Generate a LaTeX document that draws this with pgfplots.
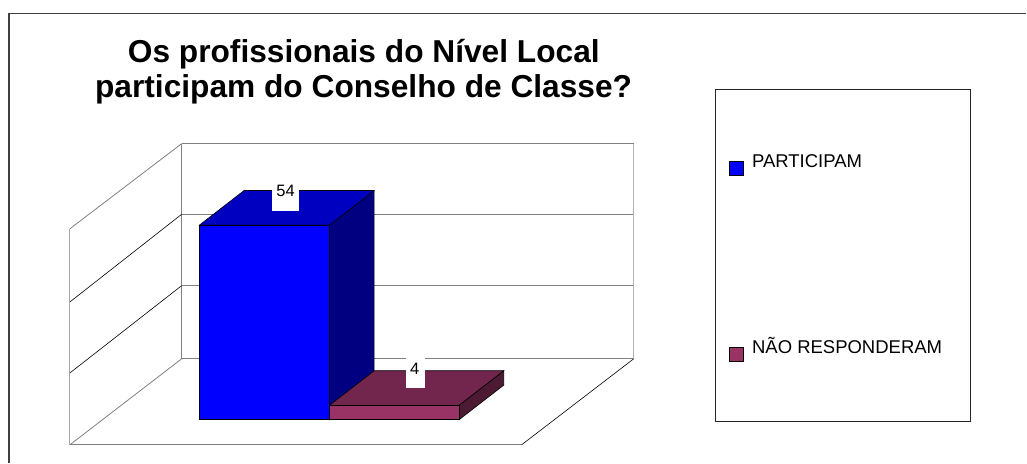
\documentclass[border=0pt]{standalone}
\usepackage{pgfplots}
\pgfplotsset{compat=1.18}
\usepackage{fontspec}
\setmainfont{Liberation Sans}
\definecolor{mblue}{HTML}{0000FF}
\definecolor{mbluetop}{HTML}{0000C0}
\definecolor{mblueside}{HTML}{000080}
\definecolor{mar}{HTML}{993366}
\definecolor{martop}{HTML}{73264D}
\definecolor{marside}{HTML}{4D1A33}
\definecolor{gridg}{HTML}{808080}
\begin{document}
\begin{tikzpicture}
\begin{axis}[
  scale only axis, width=1027pt, height=463pt,
  xmin=0, xmax=1027, ymin=-11.925, ymax=116.47,
  hide axis, clip=false,
  legend cell align=left,
  legend style={at={(axis cs:715,91.7)}, anchor=north west, draw=black!85, line width=1pt,
    font=\fontsize{18.5pt}{20pt}\selectfont, fill=white,
    inner xsep=14pt, inner ysep=64.5pt,
    row sep=169pt,
    nodes={inner sep=0pt, text height=13pt, text depth=4pt},
  },
]
\path (axis cs:0,-11.925) rectangle (axis cs:1027,116.47);
% grid on the back wall and the left wall
\addplot[forget plot, gridg, line width=1pt] coordinates {(181.7,76.6)(634,76.6)};
\addplot[forget plot, gridg, line width=1pt] coordinates {(181.7,57)(634,57)};
\addplot[forget plot, gridg, line width=1pt] coordinates {(181.7,37.2)(634,37.2)};
\addplot[forget plot, gridg, line width=1pt] coordinates {(181.7,16.9)(634,16.9)};
\addplot[forget plot, gridg, line width=.8pt] coordinates {(181.7,16.9)(181.7,76.6)};
\addplot[forget plot, black!30, line width=1pt] coordinates {(634,16.9)(634,76.6)};
\addplot[forget plot, black!35, line width=1pt] coordinates {(70,-6.93)(70,53)};
\addplot[forget plot, gridg, line width=.8pt] coordinates {(70,53)(181.7,76.6)};
\addplot[forget plot, black, line width=.6pt] coordinates {(70,32.7)(181.7,57)};
\addplot[forget plot, black, line width=.6pt] coordinates {(70,13)(181.7,37.2)};
\addplot[forget plot, gridg, line width=.8pt] coordinates {(70,-6.93)(181.7,16.9)};
\addplot[forget plot, gridg, line width=1pt] coordinates {(70,-6.93)(522,-6.93)};
\addplot[forget plot, black, line width=.6pt] coordinates {(522,-6.93)(634,16.9)};
% first bar
\addplot[forget plot, fill=mblueside, draw=black, line width=.6pt] coordinates {(329.7,0)(374.4,9.6)(374.4,63.6)(329.7,54)} -- cycle;
\addplot[forget plot, fill=mbluetop, draw=black, line width=.6pt] coordinates {(199.5,54)(329.7,54)(374.4,63.6)(244.2,63.6)} -- cycle;
\addplot[ybar, bar width=130.2, bar shift=0pt, fill=mblue, draw=black, line width=.6pt,
  legend image code/.code={\draw[overlay,fill=mblue,draw=black,line width=.7pt] (0pt,-13pt) rectangle (14.5pt,1.5pt); \path[draw=none,fill=none] (0pt,0pt) -- (14.5pt,0pt);}]
  coordinates {(264.6,54)};
\addlegendentry{\hspace{8.5pt}PARTICIPAM}
% second bar
\addplot[forget plot, fill=marside, draw=black, line width=.6pt] coordinates {(459.3,0)(504,9.6)(504,13.6)(459.3,4)} -- cycle;
\addplot[forget plot, fill=martop, draw=black, line width=.6pt] coordinates {(329.7,4)(459.3,4)(504,13.6)(374.4,13.6)} -- cycle;
\addplot[ybar, bar width=129.6, bar shift=0pt, fill=mar, draw=black, line width=.6pt,
  legend image code/.code={\draw[overlay,fill=mar,draw=black,line width=.7pt] (0pt,-13pt) rectangle (14.5pt,1.5pt); \path[draw=none,fill=none] (0pt,0pt) -- (14.5pt,0pt);}]
  coordinates {(394.5,4)};
\addlegendentry{\hspace{8.5pt}NÃO RESPONDERAM\hspace{14.5pt}\null}
% labels
\fill[white] (axis cs:272,66.3) rectangle (axis cs:299,58.04);
\node[font=\fontsize{16.5pt}{18pt}\selectfont, inner sep=0pt] at (axis cs:285.7,63.6) {54};
\fill[white] (axis cs:406,17.47) rectangle (axis cs:425,8.68);
\node[font=\fontsize{16.5pt}{18pt}\selectfont, inner sep=0pt] at (axis cs:415,14.14) {4};
% title
\node[font=\bfseries\fontsize{31.7pt}{36pt}\selectfont, inner sep=0pt, anchor=base] at (axis cs:364,99.0) {Os profissionais do Nível Local};
\node[font=\bfseries\fontsize{31.7pt}{36pt}\selectfont, inner sep=0pt, anchor=base] at (axis cs:363.8,89.3) {participam do Conselho de Classe?};
% frame
\draw[black!75, line width=1.2pt] (axis cs:9,-11.925) -- (axis cs:9,112.67) -- (axis cs:1027,112.67);
\end{axis}
\end{tikzpicture}
\end{document}
